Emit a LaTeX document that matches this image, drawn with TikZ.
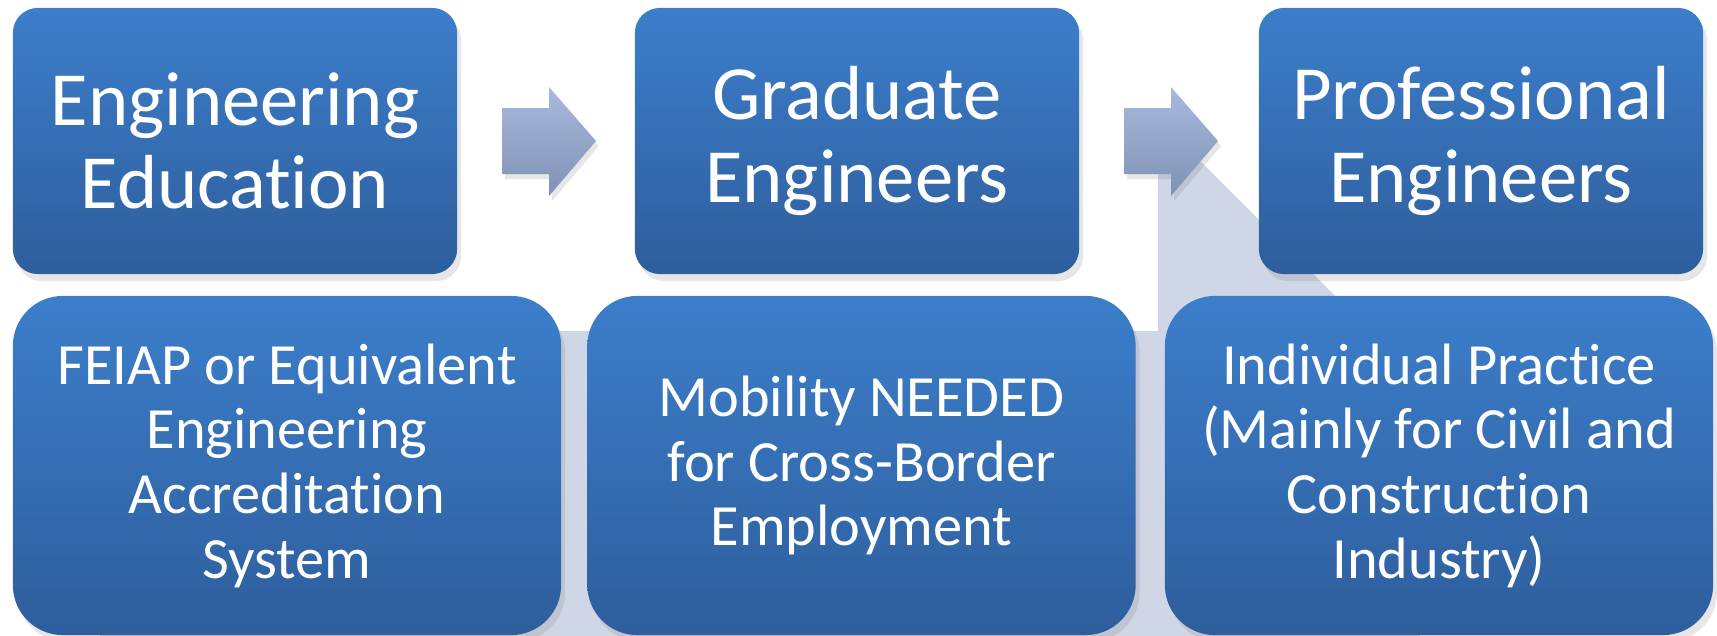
\documentclass[tikz,border=0pt]{standalone}
\usepackage{fontspec}
\setmainfont{Carlito}[Ligatures=NoCommon]
\usetikzlibrary{shadows}
\definecolor{BoxTop}{HTML}{3C7ECB}
\definecolor{BoxBot}{HTML}{2E5E9C}
\definecolor{ArrTop}{HTML}{A8BADD}
\definecolor{ArrBot}{HTML}{7F91B4}
\definecolor{Band}{HTML}{CFD6E6}

\begin{document}
\begin{tikzpicture}[x=0.01cm,y=-0.01cm]
   \tikzset{Stage/.style = {rectangle, rounded corners=0.25cm, minimum width=4.44cm,
      minimum height=2.66cm, inner sep=0pt, top color=BoxTop, bottom color=BoxBot,
      text=white, align=center, font=\fontsize{21.8}{23.6}\selectfont,
      drop shadow={opacity=0.2, shadow xshift=0.04cm, shadow yshift=-0.07cm}}}
   \tikzset{Route/.style = {Stage, rounded corners=0.5cm, minimum width=5.48cm,
      minimum height=3.39cm, font=\fontsize{16.6}{18.4}\selectfont}}
   \tikzset{FlowArrow/.style = {top color=ArrTop, bottom color=ArrBot,
      drop shadow={opacity=0.2, shadow xshift=0.03cm, shadow yshift=-0.05cm}}}
   \useasboundingbox (0,0) rectangle (1717,636);
   \fill[Band] (100,331) -- (1158,331) -- (1158,119) -- (1420,381) -- (1420,636) -- (100,636) -- cycle;
   \coordinate (A1) at (549,141);
   \coordinate (A2) at (1171,141);
   \foreach \a in {A1,A2}
      \path[FlowArrow] (\a) ++(-47,-33) -- ++(47,0) -- ++(0,-21) -- ++(47,54)
         -- ++(-47,55) -- ++(0,-22) -- ++(-47,0) -- cycle;
   \node[Stage] (EE) at (235,141)  {Engineering\\Education};
   \node[Stage] (GE) at (857,141)  {Graduate\\Engineers};
   \node[Stage] (PE) at (1481,141) {Professional\\Engineers};
   \node[Route] (AS) at (287,465.5)  {FEIAP or Equivalent\\Engineering\\Accreditation\\System};
   \node[Route] (MN) at (861.5,465.5) {Mobility NEEDED\\for Cross-Border\\Employment};
   \node[Route] (IP) at (1439,465.5) {Individual Practice\\(Mainly for Civil and\\Construction\\Industry)};
\end{tikzpicture}
\end{document}
